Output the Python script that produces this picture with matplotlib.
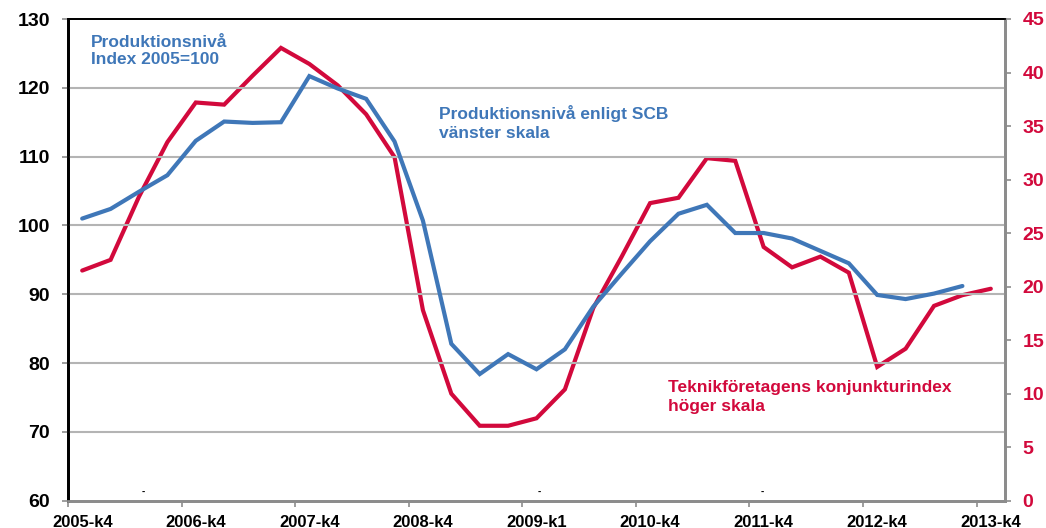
import matplotlib
matplotlib.use("Agg")
import matplotlib.pyplot as plt
from matplotlib.ticker import FixedLocator, NullFormatter
import numpy as np

# Data (quarters from 2005-k4 onward)
produktion = [101.0, 102.4, 104.9, 107.3, 112.3, 115.1, 114.9, 115.0, 121.7, 119.9,
              118.4, 112.2, 100.7, 82.8, 78.4, 81.3, 79.1, 82.0, 88.2, 93.0,
              97.7, 101.7, 103.0, 98.9, 98.9, 98.1, 96.3, 94.5, 89.9, 89.3,
              90.1, 91.2]
konjunktur = [21.5, 22.5, 28.4, 33.5, 37.2, 37.0, 39.7, 42.3, 40.8, 38.8,
              36.1, 32.1, 17.8, 10.0, 7.0, 7.0, 7.7, 10.4, 18.0, 22.8,
              27.8, 28.3, 32.0, 31.75, 23.7, 21.8, 22.8, 21.3, 12.5, 14.2,
              18.2, 19.2, 19.8]
tick_labels = ['2005-k4', '2006-k4', '2007-k4', '2008-k4', '2009-k1',
               '2010-k4', '2011-k4', '2012-k4', '2013-k4']
left_ticks = [60, 70, 80, 90, 100, 110, 120, 130]
right_ticks = [0, 5, 10, 15, 20, 25, 30, 35, 40, 45]

BLUE = '#3f77b8'
RED = '#d2093c'
GRID = '#b4b4b4'
SPINE = '#8c8c8c'

plt.rcParams['font.family'] = ['Liberation Sans', 'DejaVu Sans']
plt.rcParams['font.weight'] = 'bold'

fig = plt.figure(figsize=(10.46, 5.28), dpi=100)
ax = fig.add_axes([68/1046, 1 - 500.7/528, (1005-68)/1046, (500.7-19)/528])
ax2 = ax.twinx()

x_blue = np.arange(len(produktion))
x_red = np.arange(len(konjunktur))

ax.set_xlim(-0.5, 32.5)
ax.set_ylim(60, 130)
ax2.set_ylim(0, 45)

for v in left_ticks[1:-1]:
    ax.axhline(v, color=GRID, lw=1.5, zorder=0)

ax2.plot(x_red, konjunktur, color=RED, lw=3.0, solid_capstyle='round', solid_joinstyle='miter', zorder=3)
ax.plot(x_blue, produktion, color=BLUE, lw=3.0, solid_capstyle='round', solid_joinstyle='miter', zorder=3)
ax.set_zorder(ax2.get_zorder() + 1)
ax.patch.set_visible(False)

# major ticks at category boundaries (marks only), labels on category centres
ax.xaxis.set_major_locator(FixedLocator(np.arange(-0.5, 32.6, 4)))
ax.xaxis.set_major_formatter(NullFormatter())
ax.set_xticks(np.arange(0, 33, 4), minor=True)
ax.set_xticklabels(tick_labels, minor=True, fontsize=12, fontweight='bold')
ax.tick_params(axis='x', which='minor', length=0, pad=10)
ax.tick_params(axis='x', which='major', length=4.3, width=1.2, color=SPINE)

ax.set_yticks(left_ticks)
ax.set_yticklabels([str(t) for t in left_ticks], fontsize=14, fontweight='bold')
ax2.set_yticks(right_ticks)
ax2.set_yticklabels([str(t) for t in right_ticks], fontsize=14, fontweight='bold', color=RED)

ax.tick_params(axis='y', length=4.3, width=1.2, color=SPINE, pad=8.5)
ax2.tick_params(axis='y', length=4.3, width=1.2, color=SPINE, pad=8.3)

for a in (ax, ax2):
    a.spines['left'].set_color('black')
    a.spines['left'].set_linewidth(2)
    a.spines['top'].set_color('black')
    a.spines['top'].set_linewidth(1.3)
    a.spines['bottom'].set_color(SPINE)
    a.spines['bottom'].set_linewidth(2)
    a.spines['right'].set_color(SPINE)
    a.spines['right'].set_linewidth(2)

def fx(px):
    return px / 1046
def fy(py):
    return 1 - py / 528

fig.text(fx(91), fy(35), 'Produktionsnivå\nIndex 2005=100', color=BLUE, fontsize=12.5,
         fontweight='bold', va='top', ha='left', linespacing=1.2)
fig.text(fx(439), fy(105), 'Produktionsnivå enligt SCB\nvänster skala', color=BLUE, fontsize=12.5,
         fontweight='bold', va='top', ha='left', linespacing=1.3)
fig.text(fx(668), fy(380), 'Teknikföretagens konjunkturindex\nhöger skala', color=RED, fontsize=12.5,
         fontweight='bold', va='top', ha='left', linespacing=1.3)

# small stray dashes near the bottom of the plot area
for px in (143, 539, 762):
    fig.text(fx(px), fy(492), '-', color='black', fontsize=7, ha='center', va='center')

fig.savefig('out.png', dpi=100)
